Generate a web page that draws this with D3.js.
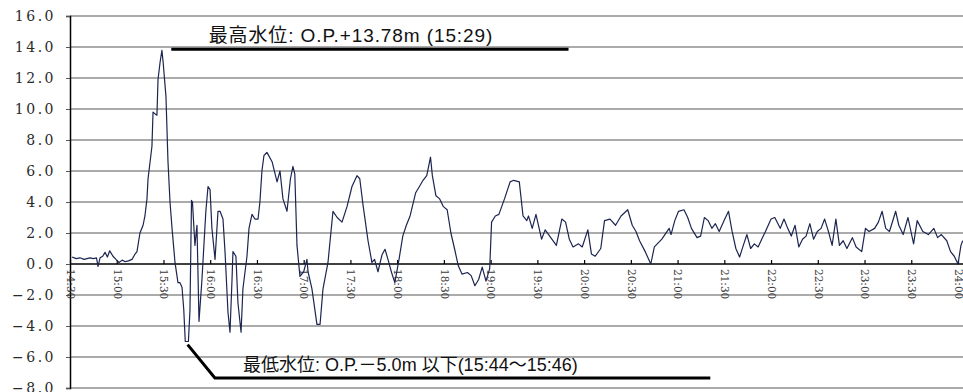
<!DOCTYPE html>
<html>
<head>
<meta charset="utf-8">
<script src="https://cdn.jsdelivr.net/npm/d3@7"></script>
<style>
  html, body { margin: 0; padding: 0; background: #fff; }
  svg { display: block; }
</style>
</head>
<body>
<svg id="chart" width="963" height="392"></svg>
<script>
// Tide record: minutes after 14:00 and water level (O.P. m)
const elapsedMin = [
  31.3, 34, 36.4, 39, 42.8, 45, 47, 48, 49.3, 51, 52.5, 54, 55.5, 57.6, 59.5, 61.5, 63.5, 65.5, 67.5, 69.8,
  71.5, 73.0, 74.9, 76.9, 78.1, 79.4, 80.1, 81.3, 82.6, 83.3, 84.5, 85.8, 86.5, 87.8, 89.0, 89.8, 91.6, 92.9, 94.2, 95.5,
  97.4, 99.3, 100.5, 101.9, 103.0, 104.0, 106.0, 107.0, 108.0, 108.6, 110.2, 111.5, 112.8, 114.7, 117.2, 118.6, 119.9, 121.1, 123.1, 125.0,
  126.3, 128.2, 129.5, 131.4, 132.7, 134.0, 134.6, 136.5, 137.8, 139.8, 141.0, 143.6, 144.9, 146.8, 148.7, 150.7, 151.9, 153.2, 154.5, 156.4,
  159.7, 162.9, 164.8, 166.7, 169.3, 171.5, 173.1, 174.3, 175.7, 177.6, 180, 182.1, 182.8, 185.3, 188.5, 190.5, 192.4, 195.6, 198.8, 201.5,
  204.6, 207.8, 211.0, 214.2, 216, 218.1, 221.3, 223.8, 225.5, 227.7, 230.3, 232.2, 234.1, 236.4, 238.5, 241.2, 243.6, 245.9, 248.3, 251.9,
  254.3, 256.6, 259.0, 261.4, 262.6, 264.9, 267.3, 269.7, 272.1, 274.5, 276.8, 279.2, 281.6, 285.1, 287.5, 289.9, 292.3, 294.6, 297.0, 299.4,
  300.6, 303.0, 305.3, 308.9, 312.5, 314.8, 318.4, 320.8, 323.2, 324.3, 326.7, 329.1, 332.7, 335.0, 338.6, 342.2, 345.7, 348.1, 350.5, 352.9,
  356.4, 358.8, 362.4, 364.7, 367.1, 370.7, 373.1, 376.6, 380.2, 383.7, 388.0, 390.9, 393.3, 395.6, 399.2, 402.8, 405.1, 409.9, 414.6, 415.8,
  418.2, 420.6, 424.1, 426.5, 428.9, 432.5, 434.8, 437.2, 439.6, 442.0, 444.3, 446.7, 450.3, 452.7, 455.0, 457.4, 459.8, 462.2, 464.5, 466.9,
  469.3, 471.7, 474.0, 476.4, 480.0, 482.4, 485.9, 488.3, 490.7, 493.0, 495.4, 497.8, 500.2, 502.5, 504.9, 507.3, 509.7, 512.1, 514.4, 516.8,
  519.2, 521.6, 523.9, 526.3, 528.7, 532.2, 534.6, 538.2, 540.6, 542.9, 546.5, 548.9, 551.3, 553.6, 556.0, 560.0, 562.0, 564.8, 567.9, 571.5,
  573.8, 577.4, 581.0, 584.5, 586.9, 589.3, 592.8, 595.2, 597.6, 600.0, 601.9, 603
];
const level = [
  0.45, 0.35, 0.4, 0.3, 0.4, 0.35, 0.4, -0.15, 0.4, 0.5, 0.75, 0.45, 0.85, 0.5, 0.3, 0.1, 0.25, 0.15, 0.2, 0.3,
  0.6, 0.8, 2.0, 2.5, 3.1, 4.2, 5.5, 6.5, 7.6, 9.8, 9.7, 9.6, 11.9, 13.0, 13.78, 13.0, 10.8, 6.6, 4.0, 2.3,
  0.1, -1.2, -1.2, -1.5, -2.9, -5.0, -5.0, -3.0, 4.1, 4.0, 1.2, 2.5, -3.7, -1.0, 3.4, 5.0, 4.8, 2.3, 0.3, 3.4,
  3.4, 2.9, 0.8, -3.1, -4.4, -1.0, 0.8, 0.5, -2.5, -4.4, -1.6, 0.5, 2.3, 3.2, 2.9, 2.9, 4.0, 6.0, 7.0, 7.2,
  6.6, 5.3, 6.0, 4.2, 3.4, 5.5, 6.3, 5.8, 1.2, -0.8, -0.5, 0.3, -0.5, -1.6, -3.9, -3.9, -1.6, 0.1, 3.4, 3.0,
  2.7, 3.7, 5.0, 5.7, 5.5, 3.8, 1.5, 0.1, 0.3, -0.5, 0.6, 0.95, 0.3, -0.55, -1.2, 0.3, 1.8, 2.5, 3.1, 4.6,
  5.0, 5.4, 5.7, 6.9, 5.7, 4.4, 4.2, 3.7, 3.5, 2.0, 1.0, -0.1, -0.65, -0.55, -0.75, -1.4, -1.0, -0.2, -1.1, -0.3,
  2.7, 3.1, 3.2, 4.2, 5.3, 5.4, 5.3, 3.1, 2.8, 3.1, 2.3, 3.2, 1.6, 2.2, 1.7, 1.2, 2.9, 2.7, 1.6, 1.1,
  1.3, 1.1, 2.2, 0.65, 0.5, 1.0, 2.8, 2.9, 2.5, 3.1, 3.5, 2.5, 2.1, 1.5, 0.8, 0.0, 1.1, 1.6, 2.3, 1.9,
  2.8, 3.4, 3.5, 3.0, 2.3, 1.7, 1.8, 3.0, 2.8, 2.3, 2.6, 2.1, 2.9, 3.4, 2.1, 1.0, 0.45, 1.2, 1.9, 1.0,
  1.3, 1.1, 1.6, 2.1, 2.9, 3.0, 2.3, 2.9, 2.3, 1.8, 2.5, 1.1, 1.6, 1.8, 2.6, 1.6, 2.1, 2.3, 2.9, 2.1,
  1.2, 2.9, 1.2, 1.5, 1.0, 1.7, 1.1, 0.8, 2.3, 2.1, 2.3, 2.7, 3.4, 2.3, 2.1, 3.4, 2.5, 1.9, 3.0, 1.3,
  2.8, 2.1, 1.9, 2.3, 1.7, 1.9, 1.5, 0.8, 0.5, 0.0, 1.2, 1.5
];

const yTicks = [16, 14, 12, 10, 8, 6, 4, 2, 0, -2, -4, -6, -8];
const yTickLabels = ["16.0", "14.0", "12.0", "10.0", "8.0", "6.0", "4.0", "2.0", "0.0", "\u22122.0", "\u22124.0", "\u22126.0", "\u22128.0"];
const xTickLabels = ["14:30", "15:00", "15:30", "16:00", "16:30", "17:00", "17:30", "18:00", "18:30", "19:00",
  "19:30", "20:00", "20:30", "21:00", "21:30", "22:00", "22:30", "23:00", "23:30", "24:00"];

const highNote = "最高水位: O.P.+13.78m (15:29)";
const lowNote = "最低水位: O.P.－5.0m 以下(15:44～15:46)";

const W = 963, H = 392;
const svg = d3.select("#chart");

const x = d3.scaleLinear().domain([30, 600]).range([70, 958]);
const y = d3.scaleLinear().domain([-8, 16]).range([388, 16]);
const toMin = s => { const [h, m] = s.split(":").map(Number); return (h - 14) * 60 + m; };

// gridlines
svg.append("g").selectAll("line")
  .data(yTicks.filter(v => v !== 0))
  .join("line")
  .attr("x1", x(30)).attr("x2", W)
  .attr("y1", d => y(d)).attr("y2", d => y(d))
  .attr("stroke", "#8f8f8f").attr("stroke-width", 1.5);

// y axis
const yAxis = svg.append("g")
  .attr("transform", `translate(${x(30)},0)`)
  .call(d3.axisLeft(y).tickValues(yTicks).tickSize(4).tickFormat((d, i) => yTickLabels[i]));
yAxis.select(".domain").attr("stroke", "#000").attr("stroke-width", 1.5);
yAxis.selectAll(".tick line").attr("stroke", "#555");
yAxis.selectAll("text")
  .attr("x", -14)
  .attr("font-family", "'DejaVu Serif', serif")
  .attr("font-size", 14)
  .attr("letter-spacing", 2.5)
  .attr("fill", "#2a2a2a");

// zero line + x axis
svg.append("line")
  .attr("x1", x(30)).attr("x2", W)
  .attr("y1", y(0)).attr("y2", y(0))
  .attr("stroke", "#000").attr("stroke-width", 1.5);

const xAxis = svg.append("g")
  .attr("transform", `translate(0,${y(0)})`)
  .call(d3.axisBottom(x).tickValues(xTickLabels.map(toMin)).tickSize(-4).tickFormat((d, i) => xTickLabels[i]));
xAxis.select(".domain").remove();
xAxis.selectAll(".tick line").attr("stroke", "#000").attr("stroke-width", 1.2);
xAxis.selectAll("text")
  .attr("transform", "rotate(90)")
  .attr("x", 5).attr("y", 0).attr("dy", "0.35em")
  .attr("text-anchor", "start")
  .attr("font-family", "'DejaVu Serif', serif")
  .attr("font-size", 10.5)
  .attr("fill", "#3a3a3a");

// water level line
svg.append("clipPath").attr("id", "plot")
  .append("rect").attr("x", x(30)).attr("y", 0).attr("width", W - x(30)).attr("height", H);

const series = elapsedMin.map((t, i) => [t, level[i]]);
svg.append("path")
  .datum(series)
  .attr("clip-path", "url(#plot)")
  .attr("fill", "none")
  .attr("stroke", "#1c2550")
  .attr("stroke-width", 1.2)
  .attr("stroke-linejoin", "round")
  .attr("d", d3.line().x(d => x(d[0])).y(d => y(d[1])));

// annotations
const note = svg.append("g")
  .attr("font-family", "'Liberation Sans', 'Noto Sans CJK JP', sans-serif")
  .attr("fill", "#111");

note.append("line")
  .attr("x1", x(95)).attr("x2", x(350))
  .attr("y1", y(13.85)).attr("y2", y(13.85))
  .attr("stroke", "#000").attr("stroke-width", 3);
note.append("text")
  .attr("x", x(119)).attr("y", y(14.3))
  .attr("font-size", 19).attr("letter-spacing", 0.9)
  .text(highNote);

note.append("path")
  .attr("d", d3.line()([[x(105.5), y(-5.2)], [x(123), y(-7.35)], [x(441), y(-7.35)]]))
  .attr("fill", "none").attr("stroke", "#000").attr("stroke-width", 3);
note.append("text")
  .attr("x", x(141)).attr("y", y(-6.9))
  .attr("font-size", 18)
  .text(lowNote);
</script>
</body>
</html>
